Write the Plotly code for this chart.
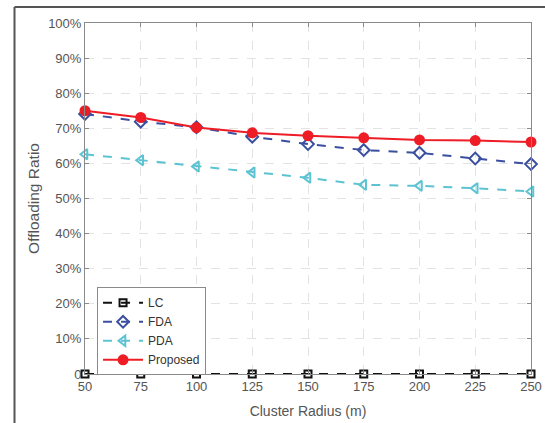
import plotly.graph_objects as go

radius = [50, 75, 100, 125, 150, 175, 200, 225, 250]
lc = [0, 0, 0, 0, 0, 0, 0, 0, 0]
fda = [74.1, 71.9, 70.3, 67.6, 65.5, 63.8, 63.0, 61.4, 59.8]
pda = [62.6, 60.9, 59.1, 57.4, 55.9, 53.9, 53.6, 52.9, 52.0]
proposed = [75.0, 73.1, 70.2, 68.7, 67.9, 67.3, 66.7, 66.5, 66.1]
ytick_vals = [0, 10, 20, 30, 40, 50, 60, 70, 80, 90, 100]
ytick_text = ["0", "10%", "20%", "30%", "40%", "50%", "60%", "70%", "80%", "90%", "100%"]

fig = go.Figure()
fig.add_trace(go.Scatter(x=radius, y=lc, name="LC", mode="lines+markers", cliponaxis=False,
                         line=dict(color="#111111", width=2, dash="dash"),
                         marker=dict(symbol="square-open", size=7, color="#111111", line=dict(width=2))))
fig.add_trace(go.Scatter(x=radius, y=fda, name="FDA", mode="lines+markers", cliponaxis=False,
                         line=dict(color="#3a4fa0", width=2, dash="dash"),
                         marker=dict(symbol="diamond-open", size=9, color="#3a4fa0", line=dict(width=2))))
fig.add_trace(go.Scatter(x=radius, y=pda, name="PDA", mode="lines+markers", cliponaxis=False,
                         line=dict(color="#5cc3d2", width=2, dash="dash"),
                         marker=dict(symbol="triangle-left-open", size=9, color="#5cc3d2", line=dict(width=2))))
fig.add_trace(go.Scatter(x=radius, y=proposed, name="Proposed", mode="lines+markers", cliponaxis=False,
                         line=dict(color="#ee1c25", width=2),
                         marker=dict(symbol="circle", size=11, color="#ee1c25")))

W, H = 545, 423
L, R, T, B = 85, 14, 23, 49
pw, ph = W - L - R, H - T - B
bx = (14.5 - L) / pw
by = 1 + (T - 7) / ph
fig.add_shape(type="line", xref="paper", yref="paper", x0=bx, x1=1 + R / pw, y0=by, y1=by,
              line=dict(color="#555555", width=2))
fig.add_shape(type="line", xref="paper", yref="paper", x0=bx, x1=bx, y0=by, y1=-B / ph,
              line=dict(color="#555555", width=2))

axis_common = dict(showline=True, linecolor="#8a8a8a", linewidth=1, mirror="ticks",
                   ticks="inside", ticklen=4, tickcolor="#8a8a8a",
                   showgrid=True, gridcolor="#e3e3e3", griddash="dash", gridwidth=1,
                   zeroline=False, automargin=False, tickfont=dict(size=13, color="#555555"))

fig.update_layout(
    width=W, height=H, autosize=False, margin=dict(l=L, r=R, t=T, b=B),
    paper_bgcolor="white", plot_bgcolor="white",
    font=dict(family="Liberation Sans, Arial, sans-serif", color="#555555"),
    xaxis=dict(range=[50, 250], tickvals=radius,
               title=dict(text="Cluster Radius (m)", font=dict(size=14, color="#555555"), standoff=13),
               **axis_common),
    yaxis=dict(range=[0, 100], tickvals=ytick_vals, ticktext=ytick_text,
               title=dict(text="Offloading Ratio", font=dict(size=15.5, color="#555555"), standoff=4),
               **axis_common),
    legend=dict(x=0.027, y=0.247, xanchor="left", yanchor="top", bgcolor="white",
                bordercolor="#8a8a8a", borderwidth=1, font=dict(size=12, color="#333333"),
                tracegroupgap=0, itemwidth=40),
    showlegend=True,
)

fig.write_html("out.html", config={"displayModeBar": False, "responsive": False},
               post_script="document.body.style.margin='0';document.body.style.overflow='hidden';")
